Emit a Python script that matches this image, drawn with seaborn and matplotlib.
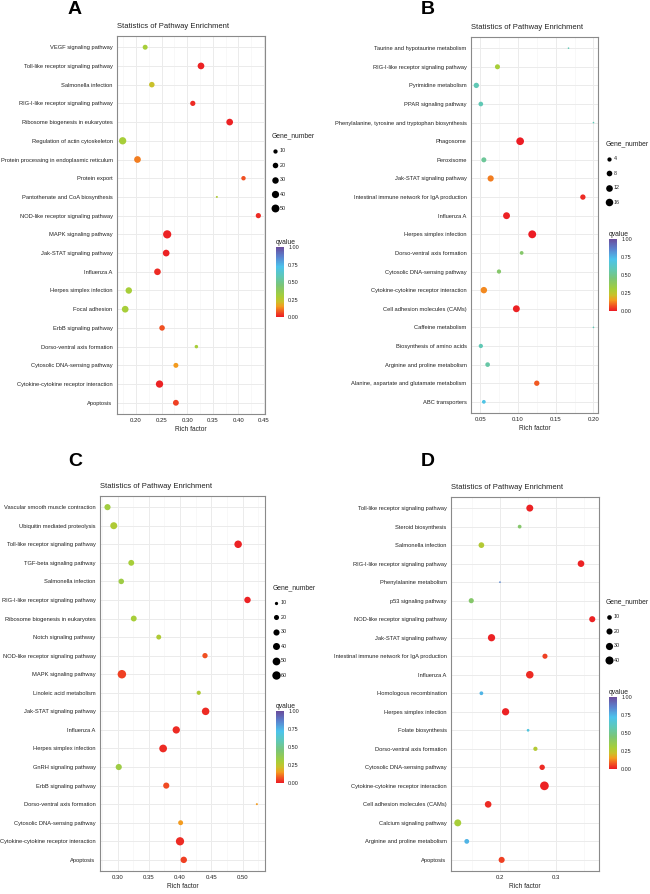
import numpy as np
import pandas as pd
import matplotlib
matplotlib.use("Agg")
import matplotlib.pyplot as plt
import seaborn as sns
from matplotlib.colors import LinearSegmentedColormap, Normalize
from matplotlib.cm import ScalarMappable
from matplotlib.lines import Line2D
from matplotlib.ticker import MultipleLocator, FormatStrFormatter

# --- Panel A data (top to bottom) ---
a_pathways = ["VEGF signaling pathway", "Toll-like receptor signaling pathway", "Salmonella infection",
              "RIG-I-like receptor signaling pathway", "Ribosome biogenesis in eukaryotes",
              "Regulation of actin cytoskeleton", "Protein processing in endoplasmic reticulum",
              "Protein export", "Pantothenate and CoA biosynthesis", "NOD-like receptor signaling pathway",
              "MAPK signaling pathway", "Jak-STAT signaling pathway", "Influenza A",
              "Herpes simplex infection", "Focal adhesion", "ErbB signaling pathway",
              "Dorso-ventral axis formation", "Cytosolic DNA-sensing pathway",
              "Cytokine-cytokine receptor interaction", "Apoptosis"]
a_rich = [0.218, 0.327, 0.231, 0.311, 0.383, 0.174, 0.203, 0.410, 0.358, 0.439,
          0.261, 0.259, 0.242, 0.186, 0.179, 0.251, 0.318, 0.278, 0.246, 0.278]
a_genes = [15, 33, 20, 17, 33, 41, 33, 11, 3, 17, 55, 33, 32, 30, 33, 20, 6, 15, 41, 23]
a_q = [0.30, 0.01, 0.22, 0.02, 0.01, 0.30, 0.12, 0.07, 0.28, 0.02,
       0.01, 0.01, 0.02, 0.30, 0.30, 0.07, 0.30, 0.15, 0.01, 0.05]
a_legend = [10, 20, 30, 40, 50]

# --- Panel B data ---
b_pathways = ["Taurine and hypotaurine metabolism", "RIG-I-like receptor signaling pathway",
              "Pyrimidine metabolism", "PPAR signaling pathway",
              "Phenylalanine, tyrosine and tryptophan biosynthesis", "Phagosome", "Peroxisome",
              "Jak-STAT signaling pathway", "Intestinal immune network for IgA production", "Influenza A",
              "Herpes simplex infection", "Dorso-ventral axis formation", "Cytosolic DNA-sensing pathway",
              "Cytokine-cytokine receptor interaction", "Cell adhesion molecules (CAMs)",
              "Caffeine metabolism", "Biosynthesis of amino acids", "Arginine and proline metabolism",
              "Alanine, aspartate and glutamate metabolism", "ABC transporters"]
b_rich = [0.167, 0.073, 0.045, 0.051, 0.200, 0.103, 0.055, 0.064, 0.186, 0.085,
          0.119, 0.105, 0.075, 0.055, 0.098, 0.200, 0.051, 0.060, 0.125, 0.055]
b_genes = [1, 6, 7, 5, 1, 17, 6, 10, 7, 13, 18, 3, 4, 11, 13, 1, 4, 5, 7, 3]
b_q = [0.58, 0.30, 0.58, 0.58, 0.58, 0.00, 0.52, 0.12, 0.02, 0.01,
       0.00, 0.42, 0.42, 0.13, 0.01, 0.58, 0.58, 0.55, 0.08, 0.70]
b_legend = [4, 8, 12, 16]

# --- Panel C data ---
c_pathways = ["Vascular smooth muscle contraction", "Ubiquitin mediated proteolysis",
              "Toll-like receptor signaling pathway", "TGF-beta signaling pathway", "Salmonella infection",
              "RIG-I-like receptor signaling pathway", "Ribosome biogenesis in eukaryotes",
              "Notch signaling pathway", "NOD-like receptor signaling pathway", "MAPK signaling pathway",
              "Linoleic acid metabolism", "Jak-STAT signaling pathway", "Influenza A",
              "Herpes simplex infection", "GnRH signaling pathway", "ErbB signaling pathway",
              "Dorso-ventral axis formation", "Cytosolic DNA-sensing pathway",
              "Cytokine-cytokine receptor interaction", "Apoptosis"]
c_rich = [0.284, 0.294, 0.493, 0.322, 0.306, 0.508, 0.326, 0.366, 0.440, 0.307,
          0.430, 0.441, 0.394, 0.373, 0.302, 0.378, 0.523, 0.401, 0.400, 0.406]
c_genes = [30, 40, 47, 27, 24, 33, 27, 19, 22, 62, 14, 47, 44, 50, 30, 30, 8, 19, 58, 33]
c_q = [0.32, 0.28, 0.01, 0.30, 0.33, 0.01, 0.30, 0.28, 0.07, 0.05,
       0.28, 0.02, 0.02, 0.02, 0.33, 0.06, 0.15, 0.15, 0.02, 0.05]
c_legend = [10, 20, 30, 40, 50, 60]

# --- Panel D data ---
d_pathways = ["Toll-like receptor signaling pathway", "Steroid biosynthesis", "Salmonella infection",
              "RIG-I-like receptor signaling pathway", "Phenylalanine metabolism", "p53 signaling pathway",
              "NOD-like receptor signaling pathway", "Jak-STAT signaling pathway",
              "Intestinal immune network for IgA production", "Influenza A", "Homologous recombination",
              "Herpes simplex infection", "Folate biosynthesis", "Dorso-ventral axis formation",
              "Cytosolic DNA-sensing pathway", "Cytokine-cytokine receptor interaction",
              "Cell adhesion molecules (CAMs)", "Calcium signaling pathway",
              "Arginine and proline metabolism", "Apoptosis"]
d_rich = [0.253, 0.235, 0.167, 0.344, 0.200, 0.149, 0.364, 0.185, 0.280, 0.253,
          0.167, 0.210, 0.250, 0.263, 0.275, 0.279, 0.179, 0.125, 0.141, 0.203]
d_genes = [28, 6, 17, 25, 2, 13, 20, 31, 13, 34, 6, 31, 3, 8, 15, 48, 25, 28, 11, 20]
d_q = [0.01, 0.42, 0.27, 0.01, 0.85, 0.42, 0.01, 0.01, 0.05, 0.02,
       0.75, 0.01, 0.68, 0.27, 0.02, 0.01, 0.02, 0.30, 0.75, 0.05]
d_legend = [10, 20, 30, 40]

# --- Style ---
W, H, DPI = 650, 894, 100
q_stops = [0.0, 0.08, 0.15, 0.22, 0.30, 0.45, 0.58, 0.72, 0.86, 1.0]
q_colors = ["#EC1C24", "#F15A22", "#F39C1F", "#C9C12B", "#A6CE39", "#7CC576",
            "#60C8B5", "#4CC3EC", "#5B83CF", "#6A4C9C"]
qcmap = LinearSegmentedColormap.from_list("qv", list(zip(q_stops, q_colors)))
qnorm = Normalize(0, 1)

sns.set_style("white")
plt.rcParams["font.family"] = ["Liberation Sans", "DejaVu Sans"]
TXT = "#222222"


def px_box(l, t, r, b):
    return [l / W, 1 - b / H, (r - l) / W, (b - t) / H]


def dot_area(v, gmin, gmax, d0, d1):
    # ggplot-like area scale: diameter grows with sqrt of rescaled value
    x = np.clip((np.asarray(v, float) - gmin) / (gmax - gmin), 0, 1)
    d_px = d0 + (d1 - d0) * np.sqrt(x)
    return (d_px * 72 / DPI) ** 2


panels = [
    dict(letter="A", names=a_pathways, rich=a_rich, genes=a_genes, q=a_q, legend=a_legend,
         box=(117, 36, 265, 414), xlim=(0.163, 0.452), major=0.05, fmt="%.2f", dots=(2.0, 8.2),
         leg=(272, 132), cbar=(276, 247, 284, 317), let=(75, 10)),
    dict(letter="B", names=b_pathways, rich=b_rich, genes=b_genes, q=b_q, legend=b_legend,
         box=(471, 37, 598, 413), xlim=(0.038, 0.206), major=0.05, fmt="%.2f", dots=(1.6, 7.9),
         leg=(606, 140), cbar=(609, 239, 617, 311), let=(428, 10)),
    dict(letter="C", names=c_pathways, rich=c_rich, genes=c_genes, q=c_q, legend=c_legend,
         box=(100, 496, 265, 871), xlim=(0.272, 0.536), major=0.05, fmt="%.2f", dots=(2.0, 8.5),
         leg=(273, 584), cbar=(276, 711, 284, 783), let=(75, 462)),
    dict(letter="D", names=d_pathways, rich=d_rich, genes=d_genes, q=d_q, legend=d_legend,
         box=(451, 497, 599, 871), xlim=(0.113, 0.376), major=0.1, fmt="%.1f", dots=(1.7, 8.7),
         leg=(606, 598), cbar=(609, 697, 617, 769), let=(428, 462)),
]

fig = plt.figure(figsize=(W / DPI, H / DPI), dpi=DPI)

for p in panels:
    ax = fig.add_axes(px_box(*p["box"]))
    df = pd.DataFrame({
        "pathway": pd.Categorical(p["names"], categories=p["names"]),
        "rich": p["rich"], "genes": p["genes"], "q": p["q"],
    })
    gmin, gmax = min(p["genes"]), max(p["genes"])
    size_map = {g: float(dot_area(g, gmin, gmax, *p["dots"])) for g in sorted(set(p["genes"]))}

    sns.scatterplot(data=df, x="rich", y="pathway", hue="q", size="genes",
                    palette=qcmap, hue_norm=qnorm, sizes=size_map,
                    linewidth=0, legend=False, ax=ax, zorder=3)

    n = len(p["names"])
    ax.set_ylim(n - 0.4, -0.6)
    ax.set_yticks(range(n))
    ax.set_yticklabels(p["names"])
    ax.set_xlim(*p["xlim"])
    ax.xaxis.set_major_locator(MultipleLocator(p["major"]))
    ax.xaxis.set_minor_locator(MultipleLocator(p["major"] / 2))
    ax.xaxis.set_major_formatter(FormatStrFormatter(p["fmt"]))

    ax.set_axisbelow(True)
    ax.grid(True, which="major", color="#EBEBEB", lw=0.7)
    ax.grid(True, which="minor", axis="x", color="#F4F4F4", lw=0.45)
    for sp in ax.spines.values():
        sp.set_visible(True)
        sp.set_color("#8A8A8A")
        sp.set_linewidth(0.8)
    ax.tick_params(axis="y", which="major", length=2, width=0.5, color="#555555",
                   labelsize=4.15, labelcolor=TXT, pad=1.2)
    ax.tick_params(axis="x", which="major", length=2, width=0.5, color="#555555",
                   labelsize=4.3, labelcolor=TXT, pad=1.2)
    ax.tick_params(which="minor", length=0)

    ax.set_ylabel("")
    ax.set_xlabel("Rich factor", fontsize=4.8, color=TXT, labelpad=2)
    ax.set_title("Statistics of Pathway Enrichment", loc="left", fontsize=5.5, color=TXT, pad=6)

    fig.text(p["let"][0] / W, 1 - p["let"][1] / H, p["letter"], ha="center", va="center",
             fontsize=14, fontweight="bold", color="black")

    # Gene_number size legend
    handles = [Line2D([], [], marker="o", ls="", color="black", markeredgewidth=0,
                      markersize=float(np.sqrt(dot_area(v, gmin, gmax, *p["dots"]))))
               for v in p["legend"]]
    leg = ax.legend(handles, [str(v) for v in p["legend"]], title="Gene_number",
                    loc="upper left", bbox_to_anchor=(p["leg"][0] / W, 1 - p["leg"][1] / H),
                    bbox_transform=fig.transFigure, frameon=False, fontsize=3.9,
                    title_fontsize=4.9, labelspacing=1.75, handlelength=1.0, handletextpad=0.4,
                    borderpad=0, borderaxespad=0, alignment="left")
    for t in leg.get_texts():
        t.set_color(TXT)
    leg.get_title().set_color(TXT)

    # qvalue colour bar
    cax = fig.add_axes(px_box(*p["cbar"]))
    cb = fig.colorbar(ScalarMappable(norm=qnorm, cmap=qcmap), cax=cax, ticks=[0, 0.25, 0.5, 0.75, 1.0])
    cb.ax.yaxis.set_major_formatter(FormatStrFormatter("%.2f"))
    cb.outline.set_visible(False)
    cb.ax.tick_params(labelsize=3.9, length=1.5, width=0.4, color="white", labelcolor=TXT, pad=1.5)
    cax.set_title("qvalue", loc="left", fontsize=4.9, color=TXT, pad=2)

fig.savefig("out.png", dpi=DPI)
